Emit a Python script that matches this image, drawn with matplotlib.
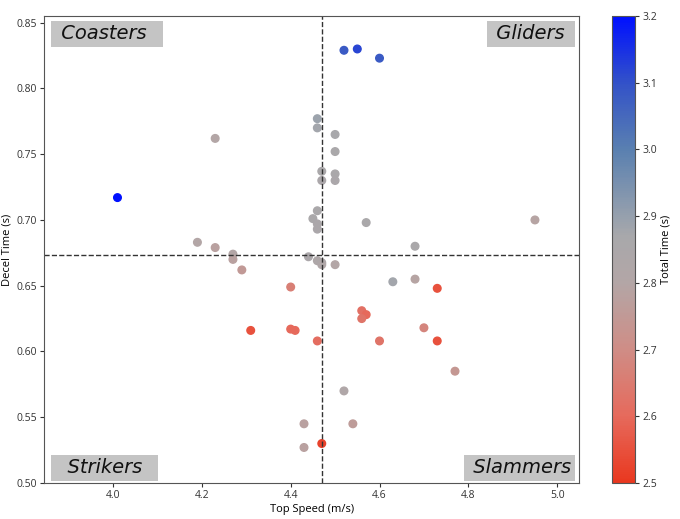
import numpy as np
import matplotlib.pyplot as plt
from matplotlib.colors import LinearSegmentedColormap

# top speed (m/s), decel time (s), total time (s)
top_speed = [4.01, 4.52, 4.55, 4.60,
             4.23, 4.46, 4.46, 4.50, 4.50, 4.47, 4.47, 4.50, 4.50,
             4.46, 4.45, 4.46, 4.46, 4.57, 4.95, 4.68,
             4.19, 4.23, 4.27, 4.27, 4.29, 4.44, 4.46, 4.47, 4.47, 4.50,
             4.40, 4.31, 4.40, 4.41, 4.46,
             4.43, 4.47, 4.43,
             4.63, 4.68, 4.73, 4.56, 4.57, 4.56, 4.70, 4.60, 4.73, 4.77,
             4.52, 4.54]
decel_time = [0.717, 0.829, 0.830, 0.823,
              0.762, 0.777, 0.770, 0.765, 0.752, 0.737, 0.730, 0.735, 0.730,
              0.707, 0.701, 0.697, 0.693, 0.698, 0.700, 0.680,
              0.683, 0.679, 0.674, 0.670, 0.662, 0.672, 0.669, 0.6675, 0.666, 0.666,
              0.649, 0.616, 0.617, 0.616, 0.608,
              0.545, 0.530, 0.527,
              0.653, 0.655, 0.648, 0.631, 0.628, 0.625, 0.618, 0.608, 0.608, 0.585,
              0.570, 0.545]
total_time = [3.20, 3.08, 3.12, 3.08,
              2.80, 2.89, 2.88, 2.87, 2.86, 2.86, 2.85, 2.86, 2.85,
              2.86, 2.86, 2.85, 2.85, 2.86, 2.79, 2.86,
              2.80, 2.78, 2.80, 2.78, 2.75, 2.85, 2.83, 2.84, 2.82, 2.80,
              2.66, 2.55, 2.60, 2.60, 2.61,
              2.78, 2.52, 2.78,
              2.88, 2.79, 2.55, 2.62, 2.60, 2.63, 2.68, 2.63, 2.55, 2.74,
              2.82, 2.76]

speed_cut = 4.47
decel_cut = 0.673

tt_stops = [2.5, 2.6, 2.7, 2.8, 2.87, 2.9, 3.0, 3.1, 3.2]
tt_colors = ["#e9381f", "#e66a5c", "#cf8d86", "#b3a6a6", "#a8a8ab",
             "#96a0ad", "#5a80b0", "#3352c8", "#0010ff"]
pos = [min(1.0, max(0.0, round((v - 2.5) / 0.7, 6))) for v in tt_stops]
cmap = LinearSegmentedColormap.from_list("rgb_time", list(zip(pos, tt_colors)))

plt.rcParams["font.family"] = ["Open Sans", "DejaVu Sans"]

fig = plt.figure(figsize=(6.8, 5.19), dpi=100)
ax = fig.add_axes([0.065, 0.0694, 0.787, 0.8996])
cax = fig.add_axes([0.9, 0.0694, 0.034, 0.8996])

sc = ax.scatter(top_speed, decel_time, c=total_time, cmap=cmap, vmin=2.5, vmax=3.2, s=30)
ax.axvline(speed_cut, color="#333333", ls="--", lw=1)
ax.axhline(decel_cut, color="#333333", ls="--", lw=1)

ax.set_xlim(3.845, 5.05)
ax.set_ylim(0.50, 0.855)
ax.set_xticks([4.0, 4.2, 4.4, 4.6, 4.8, 5.0])
ax.set_xlabel("Top Speed (m/s)", fontsize=8, labelpad=2)
ax.set_ylabel("Decel Time (s)", fontsize=8, labelpad=3)
ax.tick_params(labelsize=7.5, colors="#333333", length=3, pad=2)
for sp in ax.spines.values():
    sp.set_color("#555555")

box = dict(facecolor="#c4c4c4", edgecolor="none", pad=2.5)
txt = dict(fontsize=14, style="italic", family="DejaVu Sans", color="#111111", bbox=box)
ax.text(0.02, 0.983, " Coasters  ", transform=ax.transAxes, ha="left", va="top", **txt)
ax.text(0.985, 0.983, " Gliders ", transform=ax.transAxes, ha="right", va="top", **txt)
ax.text(0.02, 0.012, "  Strikers  ", transform=ax.transAxes, ha="left", va="bottom", **txt)
ax.text(0.985, 0.012, " Slammers", transform=ax.transAxes, ha="right", va="bottom", **txt)

cb = fig.colorbar(sc, cax=cax)
cb.set_label("Total Time (s)", fontsize=8, labelpad=3)
cb.ax.tick_params(labelsize=7.5, colors="#333333", length=3, pad=2)
cb.outline.set_edgecolor("#555555")

fig.savefig("out.png", dpi=100)
